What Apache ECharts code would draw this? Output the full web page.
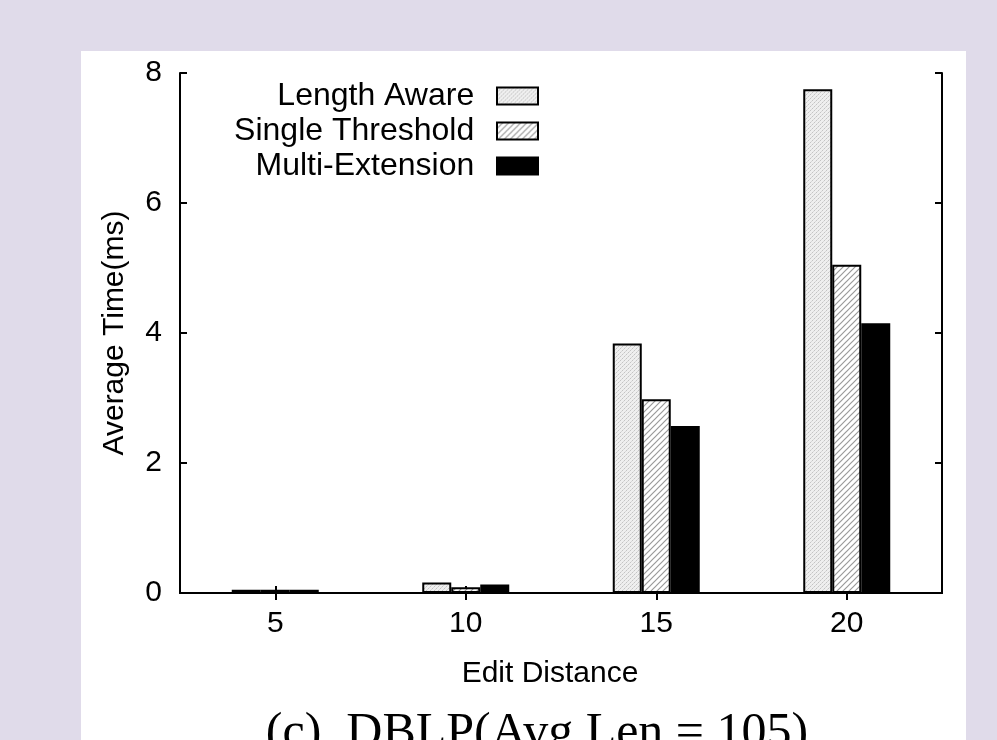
<!DOCTYPE html>
<html>
<head>
<meta charset="utf-8">
<script src="https://cdn.jsdelivr.net/npm/echarts@6/dist/echarts.min.js"></script>
<style>
html,body{margin:0;padding:0;background:#e0dbea;}
#chart{width:997px;height:740px;}
</style>
</head>
<body>
<div id="chart"></div>
<script>
const categories = ['5', '10', '15', '20'];
const seriesNames = ['Length Aware', 'Single Threshold', 'Multi-Extension'];
const lengthAware = [0.05, 0.16, 3.84, 7.75];
const singleThreshold = [0.05, 0.09, 2.98, 5.05];
const multiExtension = [0.05, 0.13, 2.57, 4.15];
const yTicks = [0, 2, 4, 6, 8];
const xTitle = 'Edit Distance';
const yTitle = 'Average Time(ms)';
const caption = '(c)  DBLP(Avg Len = 105)';

function dotPattern() {
  const c = document.createElement('canvas');
  c.width = 4; c.height = 4;
  const g = c.getContext('2d');
  g.fillStyle = '#efefef'; g.fillRect(0, 0, 4, 4);
  g.fillStyle = '#c4c4c4';
  g.fillRect(0, 0, 1, 1); g.fillRect(2, 2, 1, 1);
  g.fillStyle = '#d8d8d8';
  g.fillRect(1, 3, 1, 1); g.fillRect(3, 1, 1, 1);
  return c;
}
function hatchPattern() {
  const s = 6;
  const c = document.createElement('canvas');
  c.width = s; c.height = s;
  const g = c.getContext('2d');
  g.fillStyle = '#ffffff'; g.fillRect(0, 0, s, s);
  g.strokeStyle = '#9a9a9a'; g.lineWidth = 1.2;
  g.beginPath();
  g.moveTo(-1, s + 1); g.lineTo(s + 1, -1);
  g.moveTo(-1, 1); g.lineTo(1, -1);
  g.moveTo(s - 1, s + 1); g.lineTo(s + 1, s - 1);
  g.stroke();
  return c;
}

const chart = echarts.init(document.getElementById('chart'), null, {renderer: 'canvas'});
const font = 'Liberation Sans, Arial, Helvetica, sans-serif';
const barBase = {type: 'bar', barWidth: 29, barGap: '0%', xAxisIndex: 0, yAxisIndex: 0};
const border = {borderColor: '#000', borderWidth: 2};

chart.setOption({
  backgroundColor: '#e0dbea',
  animation: false,
  graphic: [
    {type: 'rect', z: -10, shape: {x: 81, y: 51, width: 885, height: 700}, style: {fill: '#ffffff'}},
    {type: 'text', z: 10, x: 537, y: 709, style: {text: caption, font: '50px "Liberation Serif", "Times New Roman", serif', fill: '#000', textAlign: 'center', textVerticalAlign: 'top'}}
  ],
  grid: {left: 180, right: 55, top: 73, bottom: 147, containLabel: false},
  legend: {
    orient: 'vertical', align: 'right', right: 458, top: 80, padding: 0,
    itemWidth: 41, itemHeight: 17, itemGap: 3, icon: 'rect',
    data: seriesNames,
    formatter: function (n) { return n + '  '; },
    textStyle: {fontFamily: font, fontSize: 32, color: '#000'}
  },
  xAxis: [
    {type: 'category', data: categories, position: 'bottom',
     axisLine: {show: true, lineStyle: {color: '#000', width: 2}},
     axisTick: {show: true, inside: true, alignWithLabel: true, length: 7, lineStyle: {color: '#000', width: 2}},
     axisLabel: {color: '#000', fontFamily: font, fontSize: 30, margin: 16},
     name: xTitle, nameLocation: 'middle', nameGap: 66,
     nameTextStyle: {color: '#000', fontFamily: font, fontSize: 30, padding: [0, 22, 0, 0]}},
    {type: 'category', data: categories, position: 'top',
     axisLine: {show: true, lineStyle: {color: '#000', width: 2}},
     axisTick: {show: true, inside: true, alignWithLabel: true, length: 7, lineStyle: {color: '#000', width: 2}},
     axisLabel: {show: false}}
  ],
  yAxis: [
    {type: 'value', min: yTicks[0], max: yTicks[yTicks.length - 1], interval: 2, position: 'left',
     axisLine: {show: true, lineStyle: {color: '#000', width: 2}},
     axisTick: {show: true, inside: true, length: 7, lineStyle: {color: '#000', width: 2}},
     splitLine: {show: false},
     axisLabel: {color: '#000', fontFamily: font, fontSize: 30, margin: 18},
     name: yTitle, nameLocation: 'middle', nameGap: 50,
     nameTextStyle: {color: '#000', fontFamily: font, fontSize: 30}},
    {type: 'value', min: yTicks[0], max: yTicks[yTicks.length - 1], interval: 2, position: 'right',
     axisLine: {show: true, lineStyle: {color: '#000', width: 2}},
     axisTick: {show: true, inside: true, length: 7, lineStyle: {color: '#000', width: 2}},
     splitLine: {show: false}, axisLabel: {show: false}}
  ],
  series: [
    Object.assign({}, barBase, {name: seriesNames[0], data: lengthAware,
      itemStyle: Object.assign({color: {image: dotPattern(), repeat: 'repeat'}}, border)}),
    Object.assign({}, barBase, {name: seriesNames[1], data: singleThreshold,
      itemStyle: Object.assign({color: {image: hatchPattern(), repeat: 'repeat'}}, border)}),
    Object.assign({}, barBase, {name: seriesNames[2], data: multiExtension,
      itemStyle: Object.assign({color: '#000000'}, border)})
  ]
});
</script>
</body>
</html>
